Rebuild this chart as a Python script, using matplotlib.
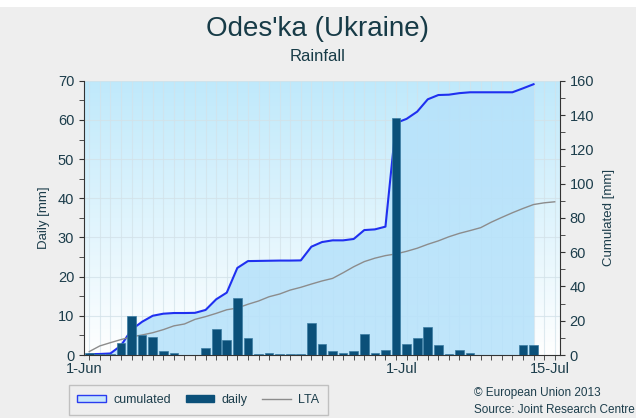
import numpy as np
import matplotlib
matplotlib.use("Agg")
import matplotlib.pyplot as plt
from matplotlib.patches import Patch, Rectangle
from matplotlib.lines import Line2D
from matplotlib.colors import LinearSegmentedColormap
from matplotlib.ticker import FixedLocator, MultipleLocator

plt.rcParams["font.family"] = ["Liberation Sans", "DejaVu Sans"]

# daily rainfall [mm], one value per day starting 1 June
daily = [0.6, 0.2, 0.3, 3.0, 10.0, 5.1, 4.7, 1.0, 0.6, 0.1,
         0.1, 1.7, 6.6, 3.8, 14.6, 4.3, 0.25, 0.4, 0.3, 0.15,
         0.15, 8.1, 2.8, 1.0, 0.4, 0.9, 5.3, 0.5, 1.4, 60.5,
         2.8, 4.3, 7.2, 2.5, 0.25, 1.3, 0.4, 0.05, 0.05, 0.05,
         0.05, 2.5, 2.5]

# cumulated rainfall [mm]
cumulated = [0.5, 0.6, 0.9, 5.5, 14.8, 19.4, 22.9, 24.1, 24.5, 24.5,
             24.6, 26.3, 32.5, 36.4, 50.8, 54.8, 54.9, 55.0, 55.1, 55.1,
             55.2, 63.2, 65.9, 66.9, 66.9, 67.7, 72.9, 73.3, 74.9, 135.4,
             137.8, 142.0, 149.2, 151.7, 151.9, 152.8, 153.3, 153.3, 153.3, 153.3,
             153.3, 155.6, 158.0]

# long term average of cumulated rainfall [mm]
lta = [2.0, 5.3, 7.2, 9.0, 10.6, 11.7, 13.0, 14.8, 17.0, 18.1,
       20.8, 22.4, 24.3, 26.4, 27.4, 29.6, 31.5, 34.0, 35.6, 37.9,
       39.5, 41.4, 43.2, 44.7, 48.0, 51.5, 54.5, 56.5, 58.0, 59.0,
       60.5, 62.3, 64.6, 66.6, 69.0, 71.0, 72.6, 74.3, 77.5, 80.3,
       83.0, 85.5, 87.8, 88.8, 89.4]

date_labels = ["1-Jun", "1-Jul", "15-Jul"]
date_days = [0, 30, 44]

text_col = "#1c3d4b"
n_days = len(lta)
day_idx = np.arange(len(daily))
lta_idx = np.arange(n_days)

fig = plt.figure(figsize=(6.36, 4.18), dpi=100, facecolor="#eeeeee")
fig.patches.append(Rectangle((0, 0.983), 1, 0.017, transform=fig.transFigure,
                             facecolor="white", edgecolor="none"))

rect = [0.132, 0.1507, 0.7485, 0.656]
# bottom layer: gradient and grid
ax_bg = fig.add_axes(rect)
ax = fig.add_axes(rect, sharex=ax_bg, sharey=ax_bg)
ax2 = ax.twinx()
ax_bg.set_zorder(0)
ax2.set_zorder(1)
ax.set_zorder(2)
ax.patch.set_visible(False)
ax2.patch.set_visible(False)

grad = LinearSegmentedColormap.from_list("bg", ["#ffffff", "#bfe9fb"])
ax_bg.imshow(np.linspace(0, 1, 256).reshape(-1, 1), cmap=grad, origin="lower",
             extent=(0, 1, 0, 1), transform=ax_bg.transAxes, aspect="auto",
             zorder=0)

# cumulated area, line and LTA on the right-hand scale
ax2.fill_between(day_idx, 0, cumulated, color="#b7e2fa", alpha=0.88,
                 linewidth=0, zorder=1)
ax2.plot(day_idx, cumulated, color="#1f30f0", linewidth=1.5, zorder=3)
ax2.plot(lta_idx, lta, color="#8c8c8c", linewidth=1.0, zorder=3)

# daily bars on the left-hand scale
ax.bar(day_idx, daily, width=0.82, color="#0b5079", edgecolor="#3b7ca3",
       linewidth=0.5, zorder=3)

ax.set_xlim(-0.5, n_days - 0.5)
ax.set_ylim(0, 70)
ax2.set_ylim(0, 160)

ax.xaxis.set_major_locator(FixedLocator([d - 0.5 for d in date_days]))
ax.set_xticklabels(date_labels)
ax.xaxis.set_minor_locator(FixedLocator(lta_idx))
ax.yaxis.set_major_locator(MultipleLocator(10))
ax.yaxis.set_minor_locator(MultipleLocator(5))
ax2.yaxis.set_major_locator(MultipleLocator(20))
ax2.yaxis.set_minor_locator(MultipleLocator(10))

ax.tick_params(axis="x", which="major", length=0, pad=5, labelsize=10.5,
               labelcolor=text_col)
ax.tick_params(axis="x", which="minor", length=3.5, color="#333333")
ax.tick_params(axis="y", which="both", length=3.5, color="#333333",
               labelsize=10.5, labelcolor=text_col)
ax2.tick_params(axis="y", which="both", length=3.5, color="#333333",
                labelsize=10.5, labelcolor=text_col)

ax_bg.tick_params(which="both", length=0, labelbottom=False, labelleft=False)
ax_bg.grid(which="minor", axis="x", color="#d3e2e9", linewidth=0.8, alpha=0.7)
ax_bg.grid(which="major", axis="y", color="#d3e2e9", linewidth=0.8, alpha=0.8)
for s in ax_bg.spines.values():
    s.set_visible(False)

for a in (ax, ax2):
    a.spines["top"].set_visible(False)
    for s in a.spines.values():
        s.set_color("#333333")
ax.spines["right"].set_visible(False)
ax2.spines["left"].set_visible(False)
ax2.spines["bottom"].set_visible(False)

ax.set_ylabel("Daily [mm]", fontsize=9.5, color=text_col, labelpad=6)
ax2.set_ylabel("Cumulated [mm]", fontsize=9.5, color=text_col, labelpad=6)

fig.text(0.5, 0.93, "Odes'ka (Ukraine)", ha="center", va="center",
         fontsize=20, color="#173b47")
fig.text(0.5, 0.864, "Rainfall", ha="center", va="center",
         fontsize=12, color="#173b47")

handles = [Patch(facecolor="#c6e6fb", edgecolor="#2a3cf0", linewidth=1),
           Patch(facecolor="#0b5079", edgecolor="#0b5079"),
           Line2D([], [], color="#8c8c8c", linewidth=1)]
leg = fig.legend(handles, ["cumulated", "daily", "LTA"], loc="lower left",
                 bbox_to_anchor=(0.108, 0.008), ncol=3, frameon=True,
                 fancybox=False, facecolor="#eeeeee", edgecolor="#b5b5b5",
                 fontsize=9, handlelength=2.3, handleheight=0.6,
                 handletextpad=0.55, columnspacing=1.2, borderpad=0.7,
                 borderaxespad=0)
for t in leg.get_texts():
    t.set_color(text_col)

fig.text(0.745, 0.060, "\u00a9 European Union 2013", fontsize=8.5,
         color=text_col, va="center")
fig.text(0.745, 0.019, "Source: Joint Research Centre", fontsize=8.5,
         color=text_col, va="center")

fig.savefig("out.png", dpi=100, facecolor=fig.get_facecolor())
